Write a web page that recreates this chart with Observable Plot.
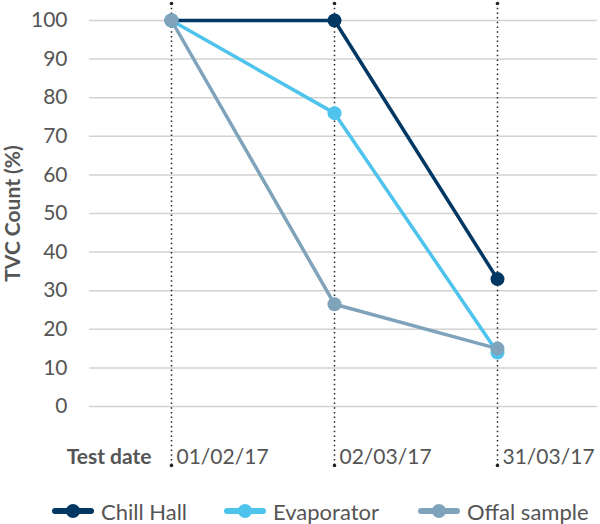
<!DOCTYPE html>
<html><head><meta charset="utf-8">
<script src="https://cdn.jsdelivr.net/npm/d3@7"></script>
<script src="https://cdn.jsdelivr.net/npm/@observablehq/plot@0.6"></script>
<style>
body{margin:0;background:#fff;font-family:Lato,sans-serif;}
#chart svg{display:block}
#legend{display:flex;height:44px;padding-top:9px;align-items:center;padding-left:52px;font-size:22px;color:#555;}
.item{display:flex;align-items:center;}
.item svg{margin-right:7px}
</style></head><body><div id="chart"></div><div id="legend"></div>
<script>
const dates = ["01/02/17","02/03/17","31/03/17"];
const seriesNames = ["Chill Hall","Evaporator","Offal sample"];
const chillHall = [100,100,33];
const evaporator = [100,76,14];
const offalSample = [100,26.5,15];
const colors = ["#003763","#4ec3ec","#7fa3bb"];
const yTicks = [0,10,20,30,40,50,60,70,80,90,100];
const legendWidths = [172,194,180];

const data = [];
[chillHall, evaporator, offalSample].forEach((vals,i)=>vals.forEach((v,j)=>data.push({series:seriesNames[i], date:dates[j], value:v})));

const chart = Plot.plot({
  width:600, height:480, marginLeft:89, marginRight:3, marginTop:20, marginBottom:74,
  style:{fontFamily:"Lato, sans-serif", fontSize:"21px", color:"#555", background:"#fff", overflow:"visible"},
  x:{type:"point", domain:dates, range:[170,497], padding:0, axis:null},
  y:{domain:[0,100], axis:null},
  color:{domain:seriesNames, range:colors},
  marks:[
    Plot.ruleY(yTicks,{stroke:"#d2d2d2", strokeWidth:1.5}),
    Plot.ruleX(dates,{stroke:"#222", strokeDasharray:"1.5,3.2", strokeWidth:1.5, insetTop:-17, insetBottom:-59}),
    Plot.dot(dates,{x:d=>d, frameAnchor:"top", dy:-17, r:1.8, fill:"#222"}),
    Plot.dot(dates,{x:d=>d, frameAnchor:"bottom", dy:59, r:1.8, fill:"#222"}),
    Plot.text(dates,{x:d=>d, text:d=>d, frameAnchor:"bottom", dy:57, dx:5, textAnchor:"start", fill:"#555", fontSize:21}),
    Plot.text(["Test date"],{x:()=>dates[0], text:d=>d, frameAnchor:"bottom", dy:57, dx:-20, textAnchor:"end", fill:"#555", fontSize:21, fontWeight:"bold"}),
    Plot.line(data,{x:"date", y:"value", stroke:"series", z:"series", strokeWidth:3.5}),
    Plot.dot(data,{x:"date", y:"value", fill:"series", r:7}),
    Plot.axisY({ticks:yTicks, tickSize:0, tickPadding:22, label:null, fontSize:21, fill:"#555"}),
    Plot.text(["TVC Count (%)"],{text:d=>d, frameAnchor:"left", textAnchor:"middle", rotate:-90, dx:-76, fontWeight:"bold", fontSize:21, fill:"#555"})
  ]
});
document.getElementById("chart").appendChild(chart);

const legend = document.getElementById("legend");
seriesNames.forEach((name,i)=>{
  const item = document.createElement("div");
  item.className = "item";
  item.style.width = legendWidths[i] + "px";
  item.innerHTML = `<svg width="42" height="16"><line x1="3" y1="8" x2="39" y2="8" stroke="${colors[i]}" stroke-width="6" stroke-linecap="round"/><circle cx="21" cy="8" r="7" fill="${colors[i]}"/></svg><span>${name}</span>`;
  legend.appendChild(item);
});
</script></body></html>
